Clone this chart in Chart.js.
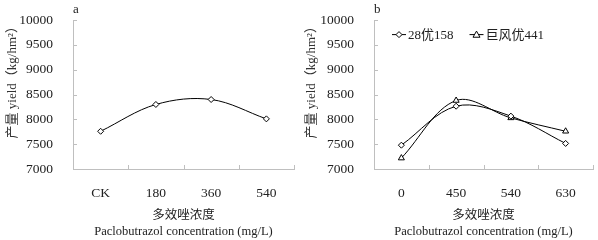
<!DOCTYPE html>
<html>
<head>
<meta charset="utf-8">
<script src="https://cdn.jsdelivr.net/npm/chart.js@4"></script>
<style>
html, body { margin: 0; padding: 0; background: #fff; }
#wrap { display: flex; width: 598px; height: 240px; }
canvas { display: block; }
</style>
</head>
<body>
<div id="wrap">
  <canvas id="chartA" width="299" height="240"></canvas>
  <canvas id="chartB" width="299" height="240"></canvas>
</div>
<script>
// chart a: single cultivar
const labelsA = ['CK', '180', '360', '540'];
const yieldA = [7760, 8300, 8400, 8010];

// chart b: two cultivars
const labelsB = ['0', '450', '540', '630'];
const namesB = ['28优158', '巨风优441'];
const yield158 = [7480, 8265, 8065, 7515];
const yield441 = [7220, 8380, 8030, 7760];

const yMin = 7000, yMax = 10000, yStep = 500;
const yTitle = '产量 yield（kg/hm²）';
const xTitle = ['多效唑浓度', 'Paclobutrazol concentration (mg/L)'];

const FONT = '"Liberation Serif", "Noto Sans CJK SC", serif';
const AXIS = '#bfbfbf';
const TEXT = '#222';

// small tick marks pointing into the plot, like the original
const insideTicks = {
    id: 'insideTicks',
    afterDraw(chart) {
        const ctx = chart.ctx;
        const sx = chart.scales.x, sy = chart.scales.y;
        const area = chart.chartArea;
        ctx.save();
        ctx.strokeStyle = AXIS;
        ctx.lineWidth = 1;
        ctx.beginPath();
        sy.ticks.forEach((t, i) => {
            const y = Math.round(sy.getPixelForTick(i)) + 0.5;
            ctx.moveTo(area.left, y);
            ctx.lineTo(area.left + 4, y);
        });
        for (let i = 0; i <= sx.ticks.length; i++) {
            const x = Math.round(sx.getPixelForValue(i - 0.5)) + 0.5;
            ctx.moveTo(x, area.bottom);
            ctx.lineTo(x, area.bottom - 4);
        }
        ctx.stroke();
        ctx.restore();
    }
};

function marker(ctx, style, cx, cy, r) {
    ctx.beginPath();
    if (style === 'rectRot') {
        ctx.moveTo(cx, cy - r); ctx.lineTo(cx + r, cy); ctx.lineTo(cx, cy + r); ctx.lineTo(cx - r, cy);
    } else {
        ctx.moveTo(cx, cy - r); ctx.lineTo(cx + r, cy + r * 0.75); ctx.lineTo(cx - r, cy + r * 0.75);
    }
    ctx.closePath();
    ctx.fill();
    ctx.stroke();
}

// legend sitting inside the plot, one row, line + marker + label
const innerLegend = {
    id: 'innerLegend',
    afterDatasetsDraw(chart) {
        const ctx = chart.ctx;
        const area = chart.chartArea;
        let x = area.left + 18;
        const y = area.top + 14.5;
        ctx.save();
        ctx.font = '13px ' + FONT;
        ctx.textBaseline = 'middle';
        ctx.lineWidth = 1;
        chart.data.datasets.forEach(ds => {
            ctx.strokeStyle = '#000';
            ctx.beginPath();
            ctx.moveTo(x, y); ctx.lineTo(x + 14, y);
            ctx.stroke();
            ctx.fillStyle = '#fff';
            marker(ctx, ds.pointStyle, x + 7, y, ds.pointRadius);
            ctx.fillStyle = TEXT;
            ctx.fillText(ds.label, x + 16, y + 0.5);
            x += 16 + ctx.measureText(ds.label).width + 16;
        });
        ctx.restore();
    }
};

function makeOptions(label, yWidth) {
    return {
        responsive: false,
        animation: false,
        layout: { padding: { left: 0, right: 2, top: 0, bottom: 0 } },
        plugins: {
            title: {
                display: true,
                text: label,
                align: 'start',
                fullSize: false,
                color: TEXT,
                font: { family: FONT, size: 13, weight: 'normal' },
                padding: { top: 0, bottom: 3 }
            },
            legend: { display: false },
            tooltip: { enabled: false }
        },
        scales: {
            x: {
                offset: true,
                grid: { display: false },
                border: { color: AXIS, width: 1 },
                ticks: { color: TEXT, padding: 8, font: { family: FONT, size: 13.5 }, maxRotation: 0 },
                title: {
                    display: true,
                    text: xTitle,
                    color: TEXT,
                    font: { family: FONT, size: 12.5, lineHeight: 1.3 },
                    padding: { top: 0, bottom: 0 }
                },
                afterFit(scale) { scale.height = 71; }
            },
            y: {
                min: yMin,
                max: yMax,
                grid: { display: false },
                border: { color: AXIS, width: 1 },
                ticks: {
                    stepSize: yStep,
                    color: TEXT,
                    padding: 12,
                    font: { family: FONT, size: 13.5 },
                    callback: v => String(v)
                },
                title: {
                    display: true,
                    text: yTitle,
                    align: 'end',
                    color: '#333',
                    font: { family: FONT, size: 13, lineHeight: 1.2 },
                    padding: { top: 5, bottom: 0 }
                },
                afterFit(scale) { scale.width = yWidth; }
            }
        }
    };
}

function lineSet(label, data, style, radius) {
    return {
        label: label,
        data: data,
        borderColor: '#000',
        borderWidth: 1,
        backgroundColor: '#fff',
        pointStyle: style,
        pointRadius: radius,
        pointBorderColor: '#000',
        pointBackgroundColor: '#fff',
        pointBorderWidth: 1,
        tension: 0.35
    };
}

new Chart(document.getElementById('chartA'), {
    type: 'line',
    data: {
        labels: labelsA,
        datasets: [lineSet('a', yieldA, 'rectRot', 3)]
    },
    options: makeOptions('a', 73),
    plugins: [insideTicks]
});

new Chart(document.getElementById('chartB'), {
    type: 'line',
    data: {
        labels: labelsB,
        datasets: [
            lineSet(namesB[0], yield158, 'rectRot', 3),
            lineSet(namesB[1], yield441, 'triangle', 3.5)
        ]
    },
    options: makeOptions('b', 75),
    plugins: [insideTicks, innerLegend]
});
</script>
</body>
</html>
